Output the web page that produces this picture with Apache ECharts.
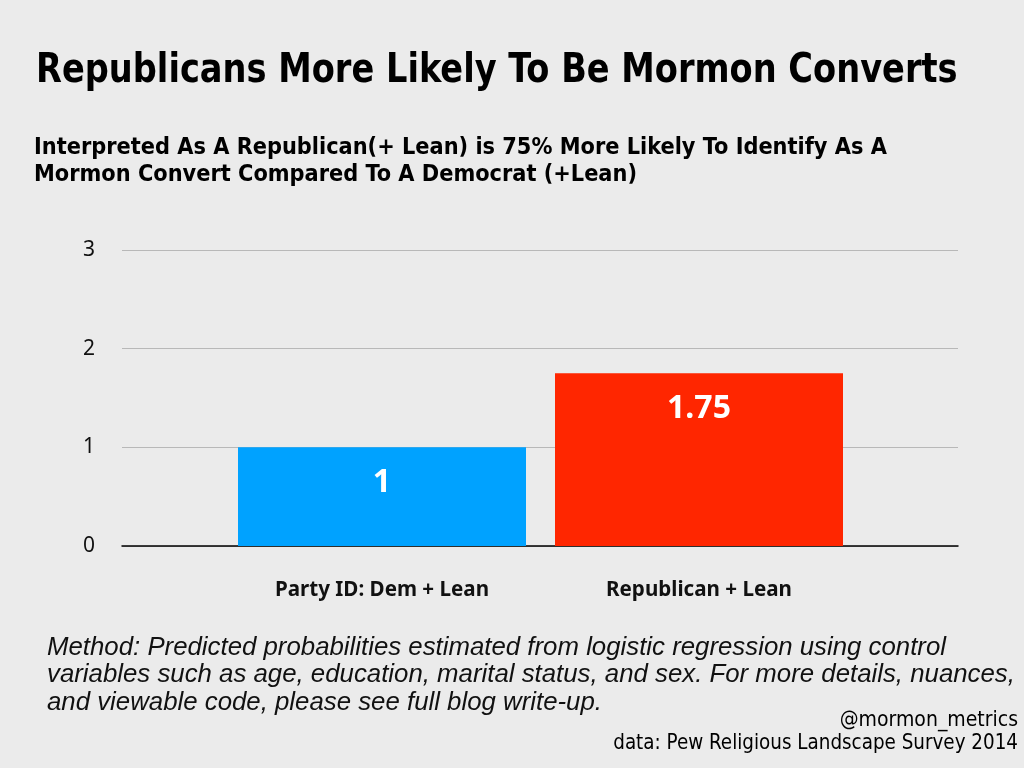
<!DOCTYPE html>
<html><head><meta charset="utf-8">
<script src="https://cdn.jsdelivr.net/npm/echarts@6/dist/echarts.min.js"></script>
<style>html,body{margin:0;padding:0;background:#ebebeb;}#c{width:1024px;height:768px;}</style>
</head><body><div id="c"></div>
<script>
const categories = ['Party ID: Dem + Lean', 'Republican + Lean'];
const values = [1, 1.75];
const valueLabels = ['1', '1.75'];
const barColors = ['#00a2ff', '#ff2600'];
const yTicks = [0, 1, 2, 3];

const title = 'Republicans More Likely To Be Mormon Converts';
const subtitle = 'Interpreted As A Republican(+ Lean) is 75% More Likely To Identify As A\nMormon Convert Compared To A Democrat (+Lean)';
const method = 'Method: Predicted probabilities estimated from logistic regression using control\nvariables such as age, education, marital status, and sex. For more details, nuances,\nand viewable code, please see full blog write-up.';
const credit = '@mormon_metrics';
const source = 'data: Pew Religious Landscape Survey 2014';

const chart = echarts.init(document.getElementById('c'), null, {renderer: 'canvas'});
const condensed = '"DejaVu Sans Condensed", sans-serif';
chart.setOption({
  backgroundColor: '#ebebeb',
  animation: false,
  graphic: [
    {type: 'text', x: 36, y: 52, scaleX: 0.935, style: {text: title, font: 'bold 40px ' + condensed, fill: '#000', textVerticalAlign: 'top'}},
    {type: 'text', x: 34, y: 134, scaleX: 0.99, style: {text: subtitle, font: 'bold 23.5px ' + condensed, lineHeight: 27, fill: '#000', textVerticalAlign: 'top'}},
    {type: 'text', left: 47, top: 634, style: {text: method, font: 'italic 25.8px "Liberation Sans", sans-serif', lineHeight: 27.5, fill: '#111'}},
    {type: 'text', right: 6, top: 710, style: {text: credit, font: '21px ' + condensed, fill: '#000', textAlign: 'right'}},
    {type: 'text', right: 6, top: 734, style: {text: source, font: '20.4px ' + condensed, fill: '#000', textAlign: 'right'}}
  ],
  grid: [
    {left: 122, right: 66, top: 250, height: 296},
    {left: 223.5, right: 166.5, top: 250, height: 296}
  ],
  xAxis: [
    {gridIndex: 0, type: 'category', data: [''], axisLine: {lineStyle: {color: '#000', width: 1.5}}, axisTick: {show: false}, axisLabel: {show: false}},
    {gridIndex: 1, type: 'category', data: categories, axisLine: {show: false}, axisTick: {show: false},
      axisLabel: {margin: 34, fontFamily: 'Noto Sans', fontWeight: 'bold', fontSize: 20.6, color: '#111'}}
  ],
  yAxis: [
    {gridIndex: 0, type: 'value', min: 0, max: 3, interval: 1,
      axisLabel: {margin: 27, fontFamily: 'Noto Sans', fontSize: 21, color: '#111', formatter: v => yTicks.includes(v) ? String(v) : ''},
      splitLine: {lineStyle: {color: '#b8b8b8', width: 1}}, axisLine: {show: false}, axisTick: {show: false}},
    {gridIndex: 1, type: 'value', min: 0, max: 3, interval: 1, show: false, splitLine: {show: false}}
  ],
  series: [{
    type: 'bar', xAxisIndex: 1, yAxisIndex: 1, barWidth: 288,
    data: values.map((v, i) => ({value: v, itemStyle: {color: barColors[i]},
      label: {formatter: valueLabels[i]}})),
    label: {show: true, position: 'insideTop', distance: 20, color: '#fff', fontFamily: 'Noto Sans', fontWeight: 'bold', fontSize: 32}
  }]
});
</script></body></html>
